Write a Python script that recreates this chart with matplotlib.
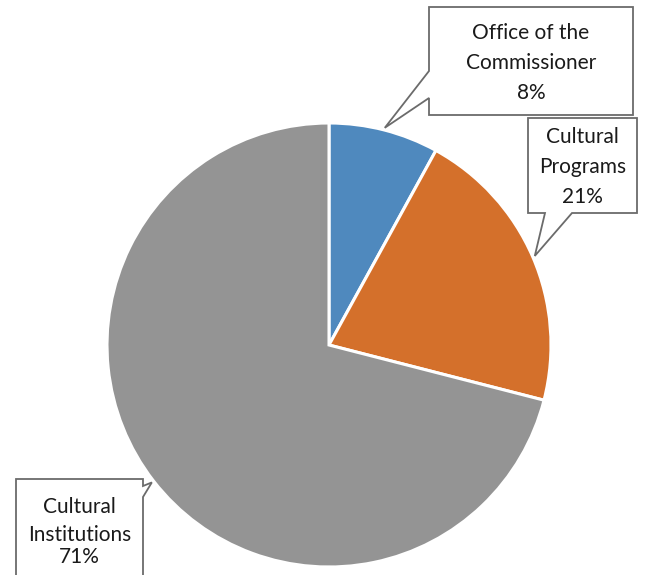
import numpy as np
import matplotlib
matplotlib.use("Agg")
import matplotlib.pyplot as plt
from matplotlib.patches import Polygon

categories = ["Office of the\nCommissioner", "Cultural\nPrograms", "Cultural\nInstitutions"]
values = [8, 21, 71]
colors = ["#4F89BE", "#D4702B", "#949494"]

W, H = 646, 575
fig = plt.figure(figsize=(W / 100, H / 100), dpi=100)
fig.patch.set_facecolor("white")

cx, cy, R = 329, 345, 222
ax = fig.add_axes([(cx - R) / W, 1 - (cy + R) / H, 2 * R / W, 2 * R / H])
wedges, _ = ax.pie(values, colors=colors, startangle=90, counterclock=False,
                   wedgeprops=dict(edgecolor="white", linewidth=2.2), radius=1)
ax.set_xlim(-1, 1)
ax.set_ylim(-1, 1)
ax.axis("off")

def fp(x, y):
    return (x / W, 1 - y / H)

# pointer tips at mid-angle of each slice (clockwise from top)
total = sum(values)
cum = np.cumsum([0] + values[:-1])
mids = [(c + v / 2) / total * 360 for c, v in zip(cum, values)]
tips = []
for m in mids:
    a = np.deg2rad(m)
    tips.append((cx + 1.01 * R * np.sin(a), cy - 1.01 * R * np.cos(a)))

boxes = [
    dict(box=(429, 7, 633, 115), side="left", base=(71, 98), text_y=(33, 63, 93)),
    dict(box=(528, 118, 637, 213), side="bottom", base=(545, 572), text_y=(137, 167, 197)),
    dict(box=(16, 479, 143, 600), side="right", base=(486, 497), text_y=(507, 535, 557)),
]

for info, tip, cat, v in zip(boxes, tips, categories, values):
    l, t, r, b = info["box"]
    b1, b2 = info["base"]
    if info["side"] == "left":
        pts = [(l, t), (r, t), (r, b), (l, b), (l, b2), tip, (l, b1)]
    elif info["side"] == "bottom":
        pts = [(l, t), (r, t), (r, b), (b2, b), tip, (b1, b), (l, b)]
    else:
        pts = [(l, t), (r, t), (r, b1), tip, (r, b2), (r, b), (l, b)]
    poly = Polygon([fp(*p) for p in pts], closed=True, transform=fig.transFigure,
                   facecolor="white", edgecolor="#6b6b6b", linewidth=1.3, zorder=5)
    fig.add_artist(poly)
    lines = cat.split("\n") + [f"{v}%"]
    xc = (l + r) / 2
    for ln, yy in zip(lines, info["text_y"]):
        fig.text(*fp(xc, yy), ln, ha="center", va="center", fontsize=15,
                 family="Lato", color="#1a1a1a", zorder=6)

fig.savefig("out.png", dpi=100, facecolor="white")
